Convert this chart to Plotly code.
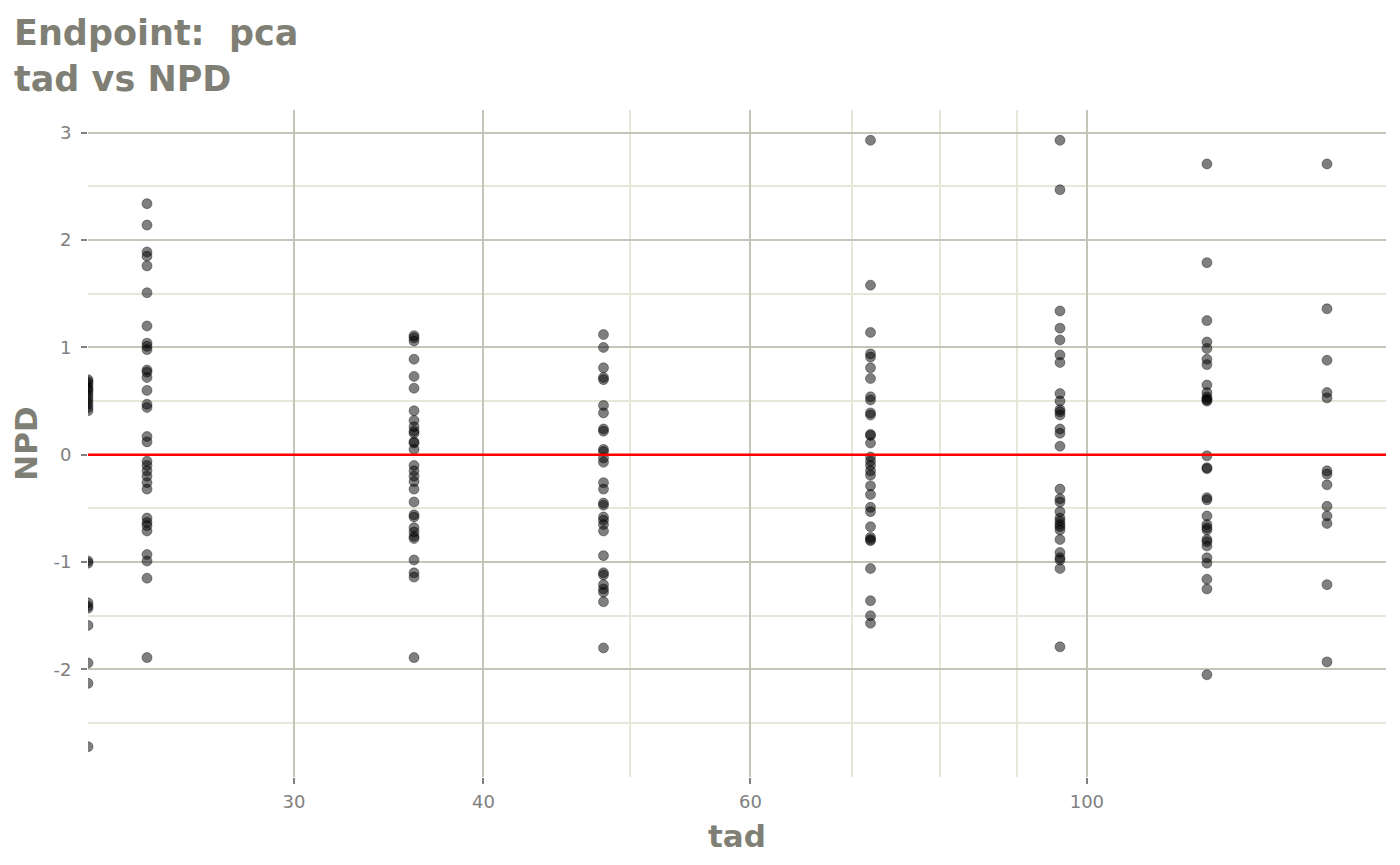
import numpy as np
import plotly.graph_objects as go

# ---- data ----
tad_levels = [0, 24, 36, 48, 72, 96, 120, 144]

npd_t0 = [0.70, 0.68, 0.66, 0.63, 0.61, 0.59, 0.56, 0.53, 0.50, 0.47, 0.44, 0.41,
          -0.99, -1.01, -1.38, -1.41, -1.43, -1.59, -1.94, -2.13, -2.72]
npd_t24 = [2.34, 2.14, 1.89, 1.85, 1.76, 1.51, 1.20, 1.04, 1.01, 0.98, 0.79, 0.77,
           0.72, 0.60, 0.47, 0.44, 0.17, 0.12, -0.06, -0.10, -0.15, -0.20, -0.26,
           -0.32, -0.59, -0.63, -0.66, -0.71, -0.93, -0.99, -1.15, -1.89]
npd_t36 = [1.11, 1.09, 1.06, 0.89, 0.73, 0.62, 0.41, 0.32, 0.26, 0.22, 0.20, 0.12,
           0.11, 0.05, -0.10, -0.15, -0.20, -0.25, -0.32, -0.44, -0.56, -0.58,
           -0.68, -0.72, -0.76, -0.78, -0.98, -1.10, -1.14, -1.89]
npd_t48 = [1.12, 1.00, 0.81, 0.72, 0.70, 0.46, 0.39, 0.24, 0.22, 0.05, 0.03, -0.03,
           -0.07, -0.26, -0.32, -0.45, -0.47, -0.58, -0.61, -0.65, -0.71, -0.94,
           -1.10, -1.12, -1.21, -1.25, -1.28, -1.37, -1.80]
npd_t72 = [2.93, 1.58, 1.14, 0.94, 0.91, 0.81, 0.71, 0.54, 0.51, 0.39, 0.37, 0.19,
           0.18, 0.11, -0.02, -0.06, -0.10, -0.15, -0.19, -0.29, -0.37, -0.49,
           -0.53, -0.67, -0.77, -0.79, -0.80, -1.06, -1.36, -1.50, -1.57]
npd_t96 = [2.93, 2.47, 1.34, 1.18, 1.07, 0.93, 0.86, 0.57, 0.50, 0.42, 0.40, 0.37,
           0.24, 0.20, 0.08, -0.32, -0.41, -0.44, -0.53, -0.59, -0.62, -0.65,
           -0.67, -0.70, -0.79, -0.91, -0.96, -0.98, -1.06, -1.79]
npd_t120 = [2.71, 1.79, 1.25, 1.05, 0.99, 0.89, 0.84, 0.65, 0.58, 0.54, 0.52, 0.51,
            0.50, -0.01, -0.12, -0.13, -0.40, -0.42, -0.57, -0.65, -0.68, -0.70,
            -0.79, -0.81, -0.85, -0.96, -1.01, -1.16, -1.25, -2.05]
npd_t144 = [2.71, 1.36, 0.88, 0.58, 0.53, -0.15, -0.18, -0.28, -0.48, -0.57, -0.64,
            -1.21, -1.93]

x_major_ticks = [30, 40, 60, 100]
x_minor_ticks = [50, 70, 80, 90]
y_major_ticks = [-2, -1, 0, 1, 2, 3]
y_major_labels = ["-2", "-1", "0", "1", "2", "3"]
reference_line = 0

title_text = "Endpoint:  pca<br>tad vs NPD"
x_title = "tad"
y_title = "NPD"

# ---- build ----
groups = [npd_t0, npd_t24, npd_t36, npd_t48, npd_t72, npd_t96, npd_t120, npd_t144]
tad = []
npd = []
for t, vals in zip(tad_levels, groups):
    tad += [t] * len(vals)
    npd += vals
tad = np.array(tad, dtype=float)
npd = np.array(npd, dtype=float)

pos = tad[tad > 0]
lo, hi = np.log10(pos.min()), np.log10(pos.max())
pad = 0.05 * (hi - lo)
xrange_log = [lo - pad, hi + pad]
# log10(0) = -Inf is drawn at the panel edge (as ggplot does)
x_plot = np.where(tad > 0, tad, 10 ** xrange_log[0])

ylo, yhi = npd.min(), npd.max()
ypad = 0.05 * (yhi - ylo)
yrange = [ylo - ypad, yhi + ypad]

title_col = "#7f7f76"
tick_col = "#808080"
major_grid = "#c4c4b8"
minor_grid = "#e6e6da"

# page has an 8px body margin; figure sized to fit inside the 1400x865 window
W, H = 1384, 849
ML, MR, MT, MB = 80, 6, 102, 80
plot_h = H - MT - MB

fig = go.Figure()
fig.add_trace(go.Scatter(
    x=x_plot, y=npd, mode="markers",
    marker=dict(size=10, color="rgba(0,0,0,0.5)",
                line=dict(width=1, color="rgba(0,0,0,0.35)")),
    showlegend=False, hoverinfo="x+y",
))
fig.add_shape(type="line", xref="paper", x0=0, x1=1, yref="y",
              y0=reference_line, y1=reference_line,
              line=dict(color="#ff0000", width=2.5), layer="above")

fig.add_annotation(
    text=title_text, xref="paper", yref="paper",
    x=(4 - ML) / (W - ML - MR), y=1 + (MT - 3) / plot_h,
    xanchor="left", yanchor="top", align="left", showarrow=False,
    font=dict(family="DejaVu Sans", size=35, color=title_col, weight="bold"),
)

fig.update_layout(
    width=W, height=H,
    margin=dict(l=ML, r=MR, t=MT, b=MB),
    paper_bgcolor="white", plot_bgcolor="white",
    font=dict(family="DejaVu Sans", color=tick_col),
)
fig.update_xaxes(
    type="log", range=xrange_log,
    tickvals=x_major_ticks, ticktext=[str(v) for v in x_major_ticks],
    showgrid=True, gridcolor=major_grid, gridwidth=2,
    ticks="outside", ticklen=6, tickwidth=2, tickcolor=tick_col,
    tickfont=dict(size=18, color=tick_col), ticklabelstandoff=2,
    minor=dict(tickvals=x_minor_ticks, showgrid=True, gridcolor=minor_grid,
               gridwidth=2, ticks=""),
    zeroline=False, showline=False,
    title=dict(text=x_title, standoff=14,
               font=dict(size=31, color=title_col, weight="bold")),
)
fig.update_yaxes(
    range=yrange,
    tickvals=y_major_ticks, ticktext=y_major_labels,
    showgrid=True, gridcolor=major_grid, gridwidth=2,
    ticks="outside", ticklen=6, tickwidth=2, tickcolor=tick_col,
    tickfont=dict(size=18, color=tick_col), ticklabelstandoff=6,
    minor=dict(dtick=0.5, showgrid=True, gridcolor=minor_grid, gridwidth=2, ticks=""),
    zeroline=False, showline=False,
    title=dict(text=y_title, standoff=15,
               font=dict(size=31, color=title_col, weight="bold")),
)

fig.write_html("out.html")
